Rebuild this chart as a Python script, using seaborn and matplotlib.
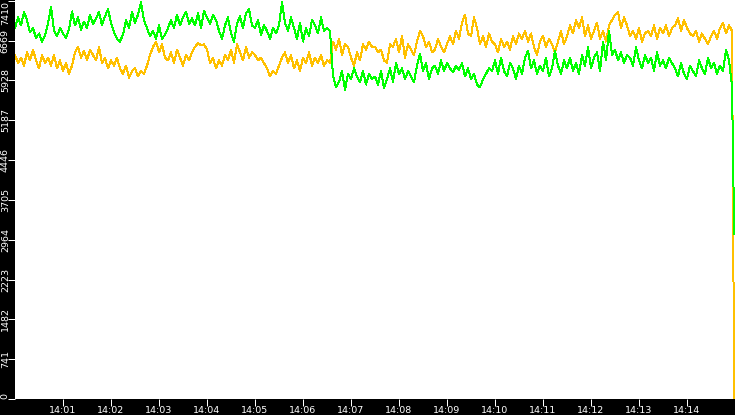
"""plot

two noisy traces on a black frame, 14:00 to 14:15.
"""

import matplotlib
matplotlib.use("Agg")
import matplotlib.dates as mdates
import matplotlib.pyplot as plt
import pandas as pd
import seaborn as sns

# one reading every 3.75 s from 14:00:00, 20 readings per row
green_vals = [
    6900, 7100, 6950, 7200, 7050, 6820, 6900, 6720, 6800, 6650, 6760, 6980, 7300, 6850, 6750, 6900, 6800, 6720, 6880, 7210,
    6950, 7100, 6870, 7020, 6900, 7150, 6980, 7080, 7200, 6950, 7120, 7250, 7000, 6820, 6700, 6650, 6780, 7050, 6900, 7200,
    7000, 7150, 7380, 7050, 6900, 6750, 6850, 6700, 6950, 6700, 6780, 6900, 7050, 6900, 7150, 6950, 7100, 7200, 6980, 7080,
    6950, 7180, 6900, 7220, 7100, 6980, 7150, 7050, 6850, 6700, 6950, 7100, 6800, 6650, 6980, 7120, 6900, 7180, 7250, 6950,
    6900, 7050, 6780, 6950, 6850, 6700, 6900, 6800, 6950, 7380, 7000, 6850, 7100, 6900, 6700, 7000, 6650, 6900, 6750, 7050,
    6950, 6800, 7100, 6850, 6900, 6850, 6010, 5800, 5900, 6100, 5750, 6050, 5950, 6150, 6000, 5900, 6100, 5850, 6050, 5950,
    6000, 5850, 6100, 5780, 5950, 6150, 5900, 6250, 6050, 6150, 5950, 6100, 6000, 5900, 6200, 6420, 6100, 6250, 5950, 6150,
    6200, 6050, 6300, 6100, 6250, 6150, 6080, 6200, 6120, 6250, 6000, 6150, 5950, 6050, 5850, 5800, 5950, 6050, 6150, 6100,
    6300, 6050, 6350, 6100, 6000, 6250, 6150, 5950, 6200, 6050, 6350, 6480, 6150, 6300, 6050, 6200, 6100, 6350, 6000, 6150,
    6480, 6200, 6050, 6300, 6150, 6350, 6100, 6250, 6050, 6400, 6200, 6550, 6150, 6350, 6450, 6100, 6650, 6300, 6850, 6400,
    6500, 6300, 6450, 6250, 6400, 6350, 6200, 6550, 6300, 6150, 6400, 6250, 6350, 6100, 6450, 6200, 6300, 6150, 6350, 6250,
    6150, 6000, 6250, 6050, 5950, 6200, 6100, 6000, 6300, 6150, 6050, 6350, 6150, 6250, 6050, 6200, 6100, 6500, 6300, 5820,
]
orange_vals = [
    6400, 6250, 6350, 6200, 6450, 6300, 6500, 6300, 6150, 6400, 6250, 6350, 6200, 6400, 6150, 6300, 6100, 6250, 6050, 6200,
    6450, 6550, 6350, 6480, 6300, 6500, 6400, 6300, 6550, 6250, 6350, 6150, 6300, 6200, 6350, 6150, 6050, 6200, 5980, 6100,
    6150, 6000, 6100, 6050, 6200, 6400, 6550, 6650, 6450, 6600, 6350, 6300, 6450, 6250, 6500, 6350, 6200, 6400, 6300, 6450,
    6550, 6620, 6580, 6600, 6500, 6250, 6350, 6150, 6300, 6200, 6400, 6300, 6500, 6250, 6600, 6450, 6300, 6550, 6350, 6450,
    6400, 6300, 6350, 6250, 6150, 6000, 6100, 6050, 6200, 6350, 6450, 6250, 6400, 6150, 6300, 6100, 6350, 6250, 6450, 6200,
    6350, 6250, 6400, 6200, 6300, 6250, 6650, 6500, 6700, 6400, 6600, 6550, 6350, 6200, 6450, 6300, 6600, 6500, 6650, 6550,
    6550, 6450, 6500, 6300, 6250, 6600, 6550, 6700, 6450, 6750, 6350, 6600, 6500, 6400, 6650, 6850, 6750, 6550, 6650, 6450,
    6500, 6700, 6550, 6450, 6600, 6750, 6600, 6850, 6700, 7000, 7150, 6800, 6750, 7100, 6900, 6600, 6750, 6550, 6800, 6650,
    6600, 6450, 6700, 6550, 6650, 6500, 6750, 6600, 6800, 6700, 6850, 6650, 6800, 6550, 6400, 6650, 6750, 6550, 6700, 6600,
    6450, 6650, 6850, 6600, 6750, 6950, 6800, 7050, 6900, 7100, 6750, 6950, 6700, 6850, 7000, 6700, 6850, 6650, 6950, 7050,
    7150, 7200, 6900, 7100, 6950, 6750, 6850, 6700, 6900, 6650, 6800, 6850, 6750, 6950, 6700, 6900, 6800, 6950, 6750, 6900,
    6950, 7080, 6850, 7050, 6900, 6800, 6750, 6850, 6650, 6800, 6700, 6600, 6750, 6850, 6700, 6900, 7000, 6800, 6950, 6850,
]
# last reading, where both traces fall away
green_end = 3070
orange_end = 0

y_ticks = [0, 741, 1482, 2223, 2964, 3705, 4446, 5187, 5928, 6669, 7410]
x_tick_labels = ["14:01", "14:02", "14:03", "14:04", "14:05", "14:06", "14:07",
                 "14:08", "14:09", "14:10", "14:11", "14:12", "14:13", "14:14"]

day = "2024-01-01"
times = list(pd.date_range(f"{day} 14:00:00", periods=len(green_vals), freq="3750ms"))
times.append(pd.Timestamp(f"{day} 14:14:59"))
df = pd.DataFrame({
    "time": times,
    "green": green_vals + [green_end],
    "orange": orange_vals + [orange_end],
})

sns.set_theme(style="white")
plt.rcParams["font.family"] = ["DejaVu Sans"]

fig = plt.figure(figsize=(7.35, 4.15), dpi=100, facecolor="black")
ax = fig.add_axes([15 / 735, 16 / 415, 720 / 735, 399 / 415])
ax.set_facecolor("white")

# 0.72 pt is one pixel at 100 dpi
sns.lineplot(data=df, x="time", y="orange", color="#FFC000", lw=0.72,
             estimator=None, antialiased=False, ax=ax)
sns.lineplot(data=df, x="time", y="green", color="#00FF00", lw=0.72,
             estimator=None, antialiased=False, ax=ax)

ax.set_xlim(mdates.date2num(pd.Timestamp(f"{day} 14:00:00")),
            mdates.date2num(pd.Timestamp(f"{day} 14:15:00")))
ax.set_ylim(0, 7423)

ax.set_xticks([mdates.date2num(pd.Timestamp(f"{day} {t}")) for t in x_tick_labels])
ax.set_xticklabels(x_tick_labels)
ax.set_yticks(y_ticks)
ax.set_yticklabels([str(v) for v in y_ticks], rotation=90, va="center")
ax.get_yticklabels()[0].set_va("bottom")
ax.get_yticklabels()[-1].set_va("top")

ax.tick_params(colors="white", length=5, width=0.72, labelsize=6.8,
               bottom=True, left=True)
ax.tick_params(axis="x", pad=0)
ax.tick_params(axis="y", pad=-1.3)
for side in ax.spines.values():
    side.set_visible(False)
ax.set_xlabel("")
ax.set_ylabel("")

fig.savefig("out.png", dpi=100, facecolor="black")
